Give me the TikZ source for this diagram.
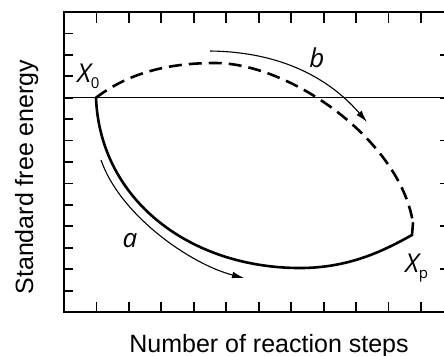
\documentclass[tikz,border=0pt]{standalone}
\usepackage{fontspec}
\setmainfont{Liberation Sans}
\newfontfamily\labelfont{Open Sans}
\usetikzlibrary{arrows.meta}

\newcommand{\lowsub}[1]{\raisebox{-0.45ex}{\fontsize{7.5}{8}\selectfont\upshape #1}}

\tikzset{
  frame/.style={line width=1.2pt},
  tickmark/.style={line width=0.9pt},
  level/.style={line width=0.7pt},
  pathline/.style={line width=1.3pt, line cap=round},
  dashline/.style={line width=1.3pt, dash pattern=on 6.5pt off 3.5pt},
  flow/.style={line width=0.55pt, -{Latex[length=6pt,width=3.4pt]}},
  axislabel/.style={font=\fontsize{12.5}{14}\selectfont, inner sep=0pt},
  curvelabel/.style={font=\labelfont\itshape\fontsize{13}{15}\selectfont, inner sep=0pt},
}

\begin{document}
\begin{tikzpicture}[x=0.5pt,y=-0.5pt]
  \useasboundingbox (0,0) rectangle (444,355);

  % Frame with ticks
  \draw[frame] (64,12) rectangle (453.4,312);
  \foreach \i in {1,...,11} {
    \draw[tickmark] ({64+32.45*\i},12) -- ++(0,11);
    \draw[tickmark] ({64+32.45*\i},312) -- ++(0,-10);
  }
  \foreach \j in {1,...,13}
    \draw[tickmark] (64,{12+21.43*\j}) -- ++(9,0);
  \foreach \j in {2,4,...,12}
    \draw[tickmark] (453.4,{12+21.43*\j}) -- ++(-13,0);

  % Level of the start state
  \coordinate (lvlL) at (64,97.7);
  \coordinate (lvlR) at (453.4,97.7);
  \draw[level] (lvlL) -- (lvlR);

  % Path a (solid) and path b (dashed)
  \coordinate (X0) at (96,97.7);
  \coordinate (low) at (300,268);
  \coordinate (turn) at (412,235);
  \coordinate (XP) at (413,223);
  \draw[pathline] (X0) .. controls (100,200) and (190,268) .. (low)
    .. controls (350,268) and (385,250) .. (turn) -- (XP);
  \draw[dashline] (X0) .. controls (130,72) and (170,63) .. (215,63)
    .. controls (290,63) and (400,140) .. (XP);

  % Direction arrows
  \coordinate (aS) at (101,160);
  \coordinate (aE) at (244,278);
  \draw[flow] (aS) .. controls (120,215) and (190,264) .. (aE);
  \coordinate (bS) at (210,51);
  \coordinate (bE) at (367,122);
  \draw[flow] (bS) .. controls (290,52) and (335,85) .. (bE);

  % Labels
  \node[curvelabel,anchor=base west] (lblX0) at (77,82) {X\lowsub{0}};
  \node[curvelabel,anchor=base west] (lblXP) at (405,272) {X\lowsub{p}};
  \node[curvelabel,anchor=base] (lbla) at (130,247) {a};
  \node[curvelabel,anchor=base] (lblb) at (317,67) {b};

  \node[axislabel,anchor=base] (xlab) at (269,352) {Number of reaction steps};
  \node[axislabel,anchor=base,rotate=90] (ylab) at (33,177) {Standard free energy};
\end{tikzpicture}
\end{document}
